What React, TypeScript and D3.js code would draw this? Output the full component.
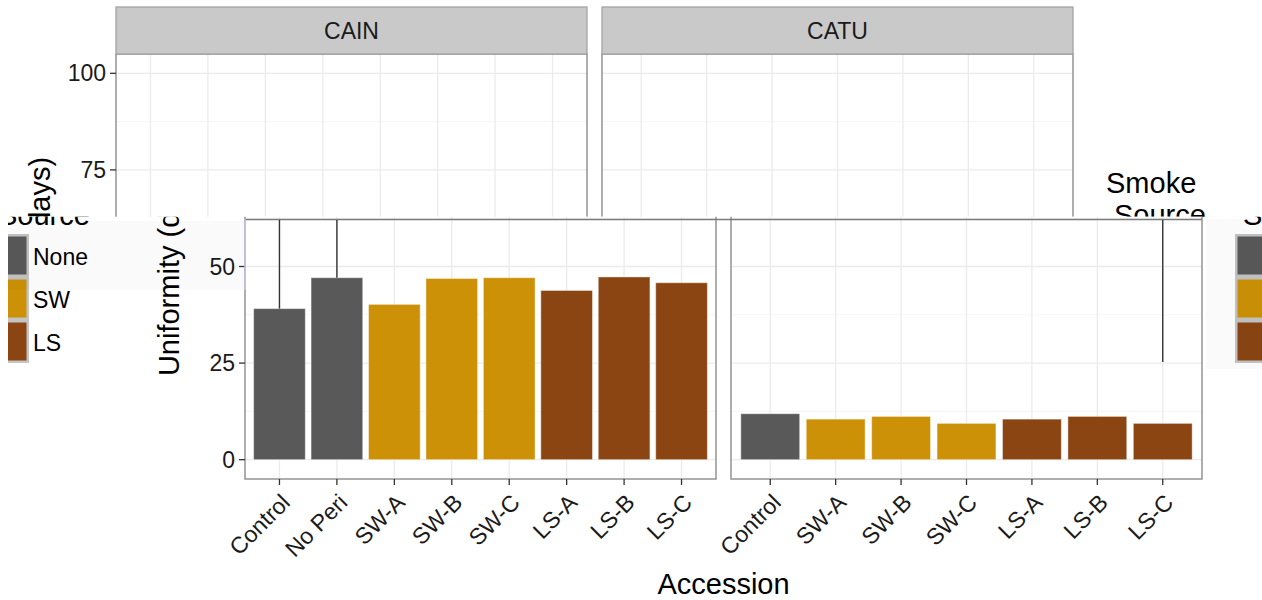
import React from "react";
import * as d3 from "d3";

const FONT = "'Liberation Sans', Arial, Helvetica, sans-serif";

// ---- data ----
const facets = ["CAIN", "CATU"];
const accCAIN = ["Control", "No Peri", "SW-A", "SW-B", "SW-C", "LS-A", "LS-B", "LS-C"];
const valCAIN = [39.1, 47.1, 40.2, 46.9, 47.1, 43.8, 47.3, 45.8];
const srcCAIN = ["None", "None", "SW", "SW", "SW", "LS", "LS", "LS"];
const accCATU = ["Control", "SW-A", "SW-B", "SW-C", "LS-A", "LS-B", "LS-C"];
const valCATU = [11.9, 10.5, 11.2, 9.4, 10.5, 11.2, 9.4];
const srcCATU = ["None", "SW", "SW", "SW", "LS", "LS", "LS"];
const sources = ["None", "SW", "LS"];
const sourceColors = ["#595959", "#CC9106", "#8B4513"];
const yTicks = [0, 25, 50, 75, 100];
const yMinor = [12.5, 37.5, 62.5, 87.5];
// stray vertical strokes seen in the overlaid copy
const strayLines = [
  { facet: 0, cat: "Control", to: 39.1 },
  { facet: 0, cat: "No Peri", to: 47.1 },
  { facet: 1, cat: "LS-C", to: 25.3 },
];

const W = 1262;
const H = 600;
const PANEL_TOP = 54;
const PANEL_BOTTOM = 479;
const PANEL_W = 471;
const PANEL_LEFTS = [116, 602];
const SHIFT = 129;
const WRAP_SHIFT = -1116;
const CUT_Y = 216.5;
const SMALL = 23;
const BIG = 29;

const yScale = d3.scaleLinear().domain([-5, 105]).range([PANEL_BOTTOM, PANEL_TOP]);
const color = d3.scaleOrdinal<string, string>().domain(sources).range(sourceColors);

const panelData = [
  { name: facets[0], cats: accCAIN, vals: valCAIN, srcs: srcCAIN, left: PANEL_LEFTS[0] },
  { name: facets[1], cats: accCATU, vals: valCATU, srcs: srcCATU, left: PANEL_LEFTS[1] },
];
const xScales = panelData.map((p) =>
  d3
    .scaleBand<string>()
    .domain(p.cats)
    .range([p.left, p.left + PANEL_W])
    .paddingInner(0.1)
    .paddingOuter(0.15)
);

function Figure({ dx }: { dx: number }) {
  return (
    <g transform={`translate(${dx},0)`} fontFamily={FONT}>
      {panelData.map((p, pi) => {
        const x = xScales[pi];
        const bw = x.bandwidth();
        return (
          <g key={p.name}>
            <rect x={p.left} y={PANEL_TOP} width={PANEL_W} height={PANEL_BOTTOM - PANEL_TOP} fill="#fff" />
            {yMinor.map((v) => (
              <line key={"mi" + v} x1={p.left} x2={p.left + PANEL_W} y1={yScale(v)} y2={yScale(v)} stroke="#F3F3F3" strokeWidth={0.8} />
            ))}
            {yTicks.map((v) => (
              <line key={"ma" + v} x1={p.left} x2={p.left + PANEL_W} y1={yScale(v)} y2={yScale(v)} stroke="#EBEBEB" strokeWidth={1.3} />
            ))}
            {p.cats.map((c) => (
              <line key={"vx" + c} x1={x(c)! + bw / 2} x2={x(c)! + bw / 2} y1={PANEL_TOP} y2={PANEL_BOTTOM} stroke="#EBEBEB" strokeWidth={1.3} />
            ))}
            {p.cats.map((c, i) => (
              <rect
                key={"b" + c}
                x={x(c)!}
                y={yScale(p.vals[i])}
                width={bw}
                height={yScale(0) - yScale(p.vals[i])}
                fill={color(p.srcs[i])}
                stroke="#ffffff"
                strokeOpacity={0.45}
                strokeWidth={1}
              />
            ))}
            <rect x={p.left} y={PANEL_TOP} width={PANEL_W} height={PANEL_BOTTOM - PANEL_TOP} fill="none" stroke="#8C8C8C" strokeWidth={1.4} />
            <rect x={p.left} y={7} width={PANEL_W} height={PANEL_TOP - 7} fill="#C9C9C9" stroke="#A3A3A3" strokeWidth={1.3} />
            <text x={p.left + PANEL_W / 2} y={39} textAnchor="middle" fontSize={SMALL} fill="#1a1a1a">
              {p.name}
            </text>
            {p.cats.map((c) => {
              const cx = x(c)! + bw / 2;
              return (
                <g key={"xt" + c}>
                  <line x1={cx} x2={cx} y1={PANEL_BOTTOM} y2={PANEL_BOTTOM + 6} stroke="#333" strokeWidth={1.3} />
                  <text transform={`translate(${cx + 12},${PANEL_BOTTOM + 25}) rotate(-45)`} textAnchor="end" fontSize={SMALL} fill="#1a1a1a">
                    {c}
                  </text>
                </g>
              );
            })}
          </g>
        );
      })}
      {yTicks.map((v) => (
        <g key={"yt" + v}>
          <line x1={PANEL_LEFTS[0] - 6} x2={PANEL_LEFTS[0]} y1={yScale(v)} y2={yScale(v)} stroke="#333" strokeWidth={1.3} />
          <text x={PANEL_LEFTS[0] - 10} y={yScale(v) + 8} textAnchor="end" fontSize={SMALL} fill="#1a1a1a">
            {v}
          </text>
        </g>
      ))}
      <text transform={`translate(50,${(PANEL_TOP + PANEL_BOTTOM) / 2}) rotate(-90)`} textAnchor="middle" fontSize={BIG} fill="#000">
        Uniformity (days)
      </text>
      <text x={(PANEL_LEFTS[0] + PANEL_LEFTS[1] + PANEL_W) / 2} y={594} textAnchor="middle" fontSize={BIG} fill="#000">
        Accession
      </text>
      <text x={1106} y={193} fontSize={BIG} fill="#000">Smoke</text>
      <text x={1114} y={225} fontSize={BIG} fill="#000">Source</text>
      {sources.map((s, i) => (
        <g key={"lg" + s}>
          <rect x={1106} y={234 + 43 * i} width={39} height={43} fill="#C4C4C4" />
          <rect x={1108.5} y={236.5 + 43 * i} width={34} height={38} fill={color(s)} />
          <text x={1149} y={265 + 43 * i} fontSize={SMALL} fill="#000">
            {s}
          </text>
        </g>
      ))}
    </g>
  );
}

export default function App() {
  return (
    <svg width={W} height={H} style={{ position: "absolute", left: 0, top: 0, display: "block", background: "#fff" }}>
      <defs>
        <clipPath id="ov">
          <rect x={0} y={CUT_Y} width={W} height={H} />
        </clipPath>
        <clipPath id="ovR">
          <rect x={SHIFT} y={CUT_Y} width={W - SHIFT} height={H} />
        </clipPath>
        <clipPath id="ovL">
          <rect x={8} y={CUT_Y} width={SHIFT - 8} height={H} />
        </clipPath>
      </defs>
      <rect x={0} y={0} width={W} height={H} fill="#fff" />
      <Figure dx={0} />
      <g clipPath="url(#ov)">
        <rect x={0} y={CUT_Y} width={W} height={H} fill="#fff" />
        <g clipPath="url(#ovR)">
          <Figure dx={SHIFT} />
        </g>
        <g clipPath="url(#ovL)">
          <Figure dx={WRAP_SHIFT} />
        </g>
        <rect x={8} y={221} width={237} height={69} fill="#000" fillOpacity={0.018} />
        <rect x={1206} y={219} width={56} height={150} fill="#000" fillOpacity={0.02} />
        <line x1={PANEL_LEFTS[0] + SHIFT} x2={PANEL_LEFTS[1] + PANEL_W + SHIFT} y1={219.5} y2={219.5} stroke="#7A7A7A" strokeWidth={1.3} />
        <line x1={PANEL_LEFTS[0] + SHIFT} x2={PANEL_LEFTS[0] + SHIFT} y1={219} y2={290} stroke="#C8C8F0" strokeWidth={1.4} />
        {strayLines.map((l, i) => {
          const xs = xScales[l.facet];
          const cx = xs(l.cat)! + xs.bandwidth() / 2 + SHIFT;
          return <line key={"sl" + i} x1={cx} x2={cx} y1={220} y2={yScale(l.to)} stroke="#333" strokeWidth={1.4} />;
        })}
      </g>
    </svg>
  );
}
